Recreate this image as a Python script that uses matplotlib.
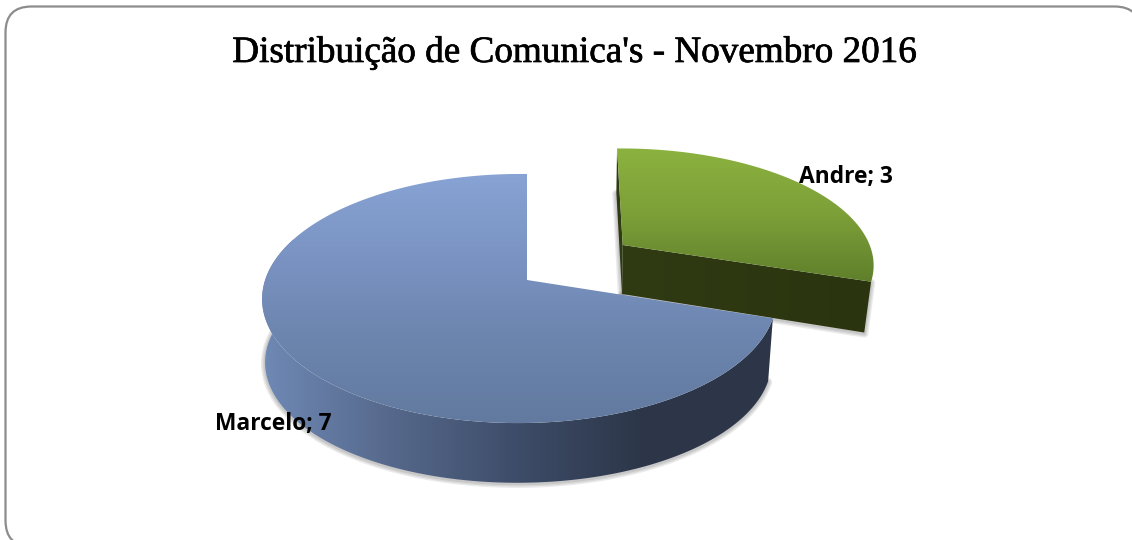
#!/usr/bin/python3
import numpy as np
import matplotlib
matplotlib.use('Agg')
import matplotlib.pyplot as plt
import matplotlib.patheffects as pe
from matplotlib.colors import LinearSegmentedColormap
from matplotlib.patches import FancyBboxPatch, Polygon

TITLE = "Distribuição de Comunica's - Novembro 2016"
names = ['Andre', 'Marcelo']
counts = [3, 7]

BLUE_TOP = ['#88a4d4', '#7a93c2', '#6c85ae', '#627a9f']
BLUE_WALL = ['#6f89b5', '#56698c', '#3d4c68', '#2c3648', '#2d3749']
GREEN_TOP = ['#8bb23f', '#7d9f38', '#5f7f2b']
GREEN_WALL = ['#303b14', '#2a350f']


def project(theta, apex, rx, ry, skew, k, m):
	# slice of a flat disc seen in perspective, theta clockwise from 12 o'clock
	u, v = np.sin(theta), np.cos(theta)
	w = 1 + k * v + m * u
	return apex[0] + (rx * u + skew * v) / w, apex[1] - ry * v / w


def band(ax, verts, colors, vertical, zorder):
	# gradient image clipped to a polygon
	xs, ys = verts[:, 0], verts[:, 1]
	cmap = LinearSegmentedColormap.from_list('g', colors)
	ramp = np.linspace(0, 1, 256)
	ramp = ramp.reshape(-1, 1) if vertical else ramp.reshape(1, -1)
	im = ax.imshow(ramp, cmap=cmap, aspect='auto', zorder=zorder,
				   extent=(xs.min(), xs.max(), ys.max(), ys.min()))
	im.set_clip_path(Polygon(verts, closed=True, transform=ax.transData))


def shadow(ax, pts, zorder):
	# soft grey line under the lower edge of a wall
	for lw in (6, 4, 2):
		ax.plot(pts[:, 0], pts[:, 1] + 1, color=(0, 0, 0, 0.08), lw=lw, zorder=zorder, solid_capstyle='round')


fig = plt.figure(figsize=(11.32, 5.4), dpi=100)
ax = fig.add_axes([0, 0, 1, 1])

ax.add_patch(FancyBboxPatch((5.5, 6.5), 1135, 540, boxstyle='round,pad=0,rounding_size=26',
							fc='white', ec='#8c8c8c', lw=1.6, zorder=0))

ends = np.cumsum(counts) / np.sum(counts) * 2 * np.pi
starts = ends - np.array(counts) / np.sum(counts) * 2 * np.pi

# green slice, pulled out of the pie
g_apex = (622.7, 245.0)
g_geo = dict(rx=242, ry=111, skew=-6.5, k=0.15, m=-0.02)
g_base = dict(rx=242 * 0.975, ry=111 * 1.05, skew=-6.5, k=0.15, m=-0.02)
g_bottom = (622.0, 294.0)
th = np.linspace(starts[0], ends[0], 120)
top = np.column_stack(project(th, g_apex, **g_geo))
low = np.column_stack(project(th, g_bottom, **g_base))
front = np.array([g_apex, top[-1], low[-1], g_bottom])
side = np.array([top[0], g_apex, g_bottom, low[0]])
shadow(ax, np.array([low[0], g_bottom]), 2)
shadow(ax, np.array([g_bottom, low[-1], top[-1]]), 2)
ax.add_patch(Polygon(side, closed=True, fc=GREEN_WALL[0], ec='none', zorder=3))
band(ax, front, GREEN_WALL, False, 3)
band(ax, np.vstack([[g_apex], top]), GREEN_TOP, True, 4)

# blue slice
b_apex = (527.0, 280.0)
b_geo = dict(rx=254, ry=121.75, skew=0, k=0.1486, m=0.03)
b_base = dict(rx=254 * 0.985, ry=121.75 * 0.97, skew=0, k=0.1486, m=0.03)
b_bottom = (526.0, 344.0)
th = np.linspace(starts[1], ends[1], 300)
top = np.column_stack(project(th, b_apex, **b_geo))
rim = np.linspace(starts[1], np.radians(290), 200)
low = np.column_stack(project(rim, b_bottom, **b_base))
wall = np.vstack([np.column_stack(project(rim, b_apex, **b_geo)), low[::-1]])
shadow(ax, low, 5)
band(ax, wall, BLUE_WALL, False, 6)
band(ax, np.vstack([[b_apex], top]), BLUE_TOP, True, 7)

ax.text(574, 62, TITLE, family='Liberation Serif', fontsize=26.75, ha='center', va='baseline', color='black', zorder=10,
		path_effects=[pe.withStroke(linewidth=0.5, foreground='black')])
label_font = dict(family='Open Sans', fontsize=16.4, fontweight='bold', color='black', va='baseline', zorder=10)
ax.text(799, 183, '%s; %d' % (names[0], counts[0]), ha='left', **label_font)
ax.text(215, 430, '%s; %d' % (names[1], counts[1]), ha='left', **label_font)

ax.set_xlim(0, 1132)
ax.set_ylim(540, 0)
ax.axis('off')
fig.savefig('out.png', dpi=100)
